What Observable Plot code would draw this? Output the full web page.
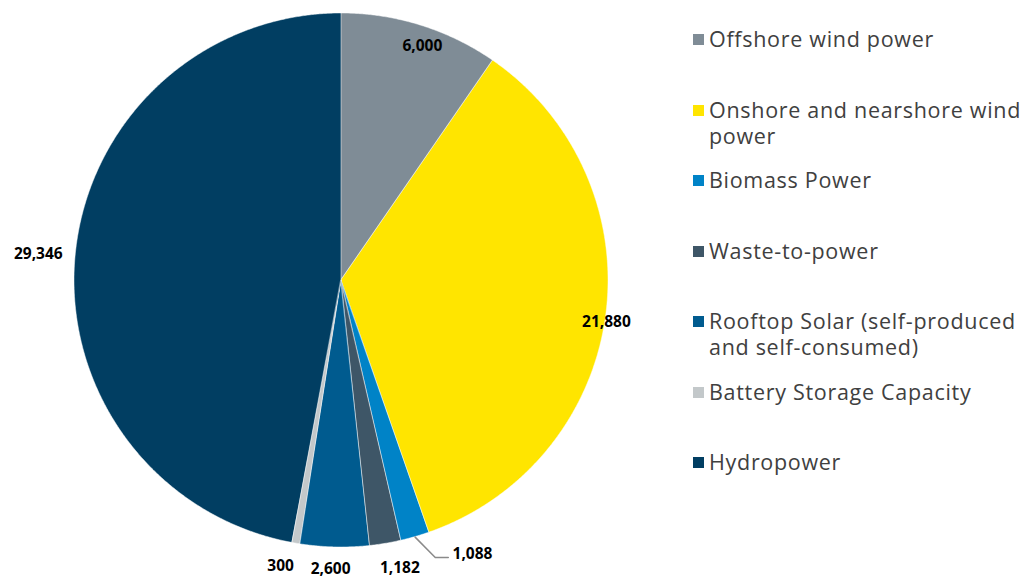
<!DOCTYPE html>
<html>
<head>
<meta charset="utf-8">
<script src="https://cdn.jsdelivr.net/npm/d3@7"></script>
<script src="https://cdn.jsdelivr.net/npm/@observablehq/plot@0.6"></script>
<style>
  html, body { margin: 0; padding: 0; background: #fff; }
  #wrap { position: relative; width: 1026px; height: 579px; overflow: hidden; }
  #chart { position: absolute; left: 0; top: 0; }
  #legend { position: absolute; left: 693px; top: 26px; font-family: "Open Sans", sans-serif; font-size: 21.5px; letter-spacing: 0.7px; color: #404040; }
  .item { height: 70.5px; display: flex; align-items: flex-start; }
  .sw { width: 11px; height: 11px; margin-top: 8px; margin-right: 5px; flex: none; }
  .txt { line-height: 26px; white-space: nowrap; }
</style>
</head>
<body>
<div id="wrap"><div id="chart"></div><div id="legend"></div></div>
<script>
// ---- data ----
const categories = ["Offshore wind power", "Onshore and nearshore wind power", "Biomass Power", "Waste-to-power", "Rooftop Solar (self-produced and self-consumed)", "Battery Storage Capacity", "Hydropower"];
const legendLines = [["Offshore wind power"], ["Onshore and nearshore wind", "power"], ["Biomass Power"], ["Waste-to-power"], ["Rooftop Solar (self-produced", "and self-consumed)"], ["Battery Storage Capacity"], ["Hydropower"]];
const values = [6000, 21880, 1088, 1182, 2600, 300, 29346];
const colors = ["#7f8c96", "#ffe500", "#0083c7", "#3e5667", "#005b8f", "#c3c8ca", "#013e62"];
// label placement (relative radius, angle shift in degrees)
const labelR = [0.93, 1.004, 1.135, 1.10, 1.082, 1.095, 1.14];
const labelShift = [1.7, 1.1, -9.6, -2.0, 0.7, 2.2, -0.3];

// ---- geometry from values ----
const pie = d3.pie().sort(null).value(d => d)(values);
const W = 1026, H = 579, cx = 341, cy = 280, R = 267;
const pol = (a, r) => [r * Math.sin(a), r * Math.cos(a)];

const wedge = [];
pie.forEach((p, i) => {
  const n = Math.max(2, Math.ceil((p.endAngle - p.startAngle) / 0.005));
  for (let k = 0; k <= n; k++) {
    const a = p.startAngle + (p.endAngle - p.startAngle) * k / n;
    const [x, y] = pol(a, 1);
    wedge.push({cat: categories[i], i, x1: 0, y1: 0, x2: x, y2: y});
  }
});

const fmt = d3.format(",");
const labels = pie.map((p, i) => {
  const a = (p.startAngle + p.endAngle) / 2 + labelShift[i] * Math.PI / 180;
  const [x, y] = pol(a, labelR[i]);
  return {x, y, text: fmt(values[i])};
});

// leader line for the biomass slice
const pb = pie[2];
const mb = (pb.startAngle + pb.endAngle) / 2;
const p0 = pol(mb, 1.0), p1 = pol(mb - 2.7 * Math.PI / 180, 1.095);
const leader = [{x: p0[0], y: p0[1]}, {x: p1[0], y: p1[1]}, {x: p1[0] + 13 / R, y: p1[1]}];

const chart = Plot.plot({
  width: W, height: H,
  margin: 0,
  x: {domain: [-cx / R, (W - cx) / R], axis: null},
  y: {domain: [-(H - cy) / R, cy / R], axis: null},
  color: {domain: categories, range: colors},
  marks: [
    Plot.area(wedge, {x1: "x1", y1: "y1", x2: "x2", y2: "y2", z: "cat", fill: "cat", stroke: "#ffffff", strokeWidth: 0.8, strokeOpacity: 0.6}),
    Plot.line(leader, {x: "x", y: "y", stroke: "#8a8a8a", strokeWidth: 1.5}),
    Plot.text(labels, {x: "x", y: "y", text: "text", fontSize: 15.5, fontWeight: "bold", fill: "#000", fontFamily: "Open Sans, sans-serif", letterSpacing: "0.8px"})
  ]
});
document.getElementById("chart").appendChild(chart);

const lg = document.getElementById("legend");
categories.forEach((c, i) => {
  const it = document.createElement("div"); it.className = "item";
  const sw = document.createElement("div"); sw.className = "sw"; sw.style.background = colors[i];
  const tx = document.createElement("div"); tx.className = "txt";
  tx.innerHTML = legendLines[i].join("<br>");
  it.appendChild(sw); it.appendChild(tx); lg.appendChild(it);
});
</script>
</body>
</html>
